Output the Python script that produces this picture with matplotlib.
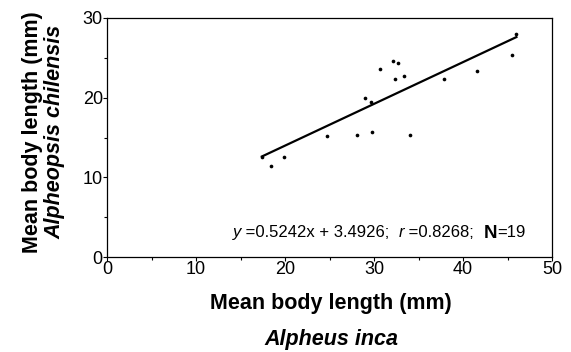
import numpy as np
import matplotlib.pyplot as plt
from matplotlib.ticker import MultipleLocator

plt.rcParams['font.family'] = ['Liberation Sans', 'DejaVu Sans']

# Data (mean body length, mm)
inca = [17.4, 18.4, 19.9, 24.7, 28.1, 29.0, 29.7, 29.8, 30.7, 32.1,
        32.4, 32.7, 33.4, 34.1, 37.9, 41.6, 45.5, 46.0]
chilensis = [12.55, 11.4, 12.5, 15.15, 15.35, 19.96, 19.5, 15.7, 23.6, 24.56,
             22.4, 24.3, 22.7, 15.35, 22.4, 23.3, 25.4, 28.0]
slope = 0.5242
intercept = 3.4926

W, H = 571, 352
fig = plt.figure(figsize=(W / 100, H / 100), dpi=100)
ax = fig.add_axes([107 / W, 1 - 257 / H, (552 - 107) / W, (257 - 18) / H])

ax.scatter(inca, chilensis, s=7, color='black', zorder=3, linewidths=0)
xl = np.array([min(inca), max(inca)])
ax.plot(xl, slope * xl + intercept, color='black', lw=1.6)

ax.set_xlim(0, 50)
ax.set_ylim(0, 30)
ax.xaxis.set_major_locator(MultipleLocator(10))
ax.xaxis.set_minor_locator(MultipleLocator(5))
ax.yaxis.set_major_locator(MultipleLocator(10))
ax.yaxis.set_minor_locator(MultipleLocator(5))
ax.tick_params(which='major', length=3, width=0.8, labelsize=13, pad=0)
ax.tick_params(which='minor', length=2, width=0.8)
for s in ax.spines.values():
    s.set_linewidth(0.9)

# regression equation, pieces placed one after another (pixel coords)
pieces = [('y', dict(style='italic')), (' =0.5242x + 3.4926;  ', {}),
          ('r', dict(style='italic')), (' =0.8268;  ', {}),
          ('N', dict(fontweight='bold', fontsize=13.5)), ('=19', {})]
renderer = fig.canvas.get_renderer()
xpix = 233
for txt, kw in pieces:
    kw = dict(kw)
    fs = kw.pop('fontsize', 12)
    t = fig.text(xpix / W, 1 - 231 / H, txt, fontsize=fs, ha='left',
                 va='center_baseline', **kw)
    xpix += t.get_window_extent(renderer).width

# axis labels (two lines, different styles)
fig.text(331 / W, 1 - 304 / H, 'Mean body length (mm)', fontsize=15.5,
         fontweight='bold', ha='center', va='center')
fig.text(331 / W, 1 - 340 / H, 'Alpheus inca', fontsize=15.5,
         fontweight='bold', style='italic', ha='center', va='center')
fig.text(33 / W, 1 - 132 / H, 'Mean body length (mm)', fontsize=15.5,
         fontweight='bold', ha='center', va='center', rotation=90)
fig.text(55 / W, 1 - 132 / H, 'Alpheopsis chilensis', fontsize=15.5,
         fontweight='bold', style='italic', ha='center', va='center', rotation=90)

plt.savefig('out.png', dpi=100)
